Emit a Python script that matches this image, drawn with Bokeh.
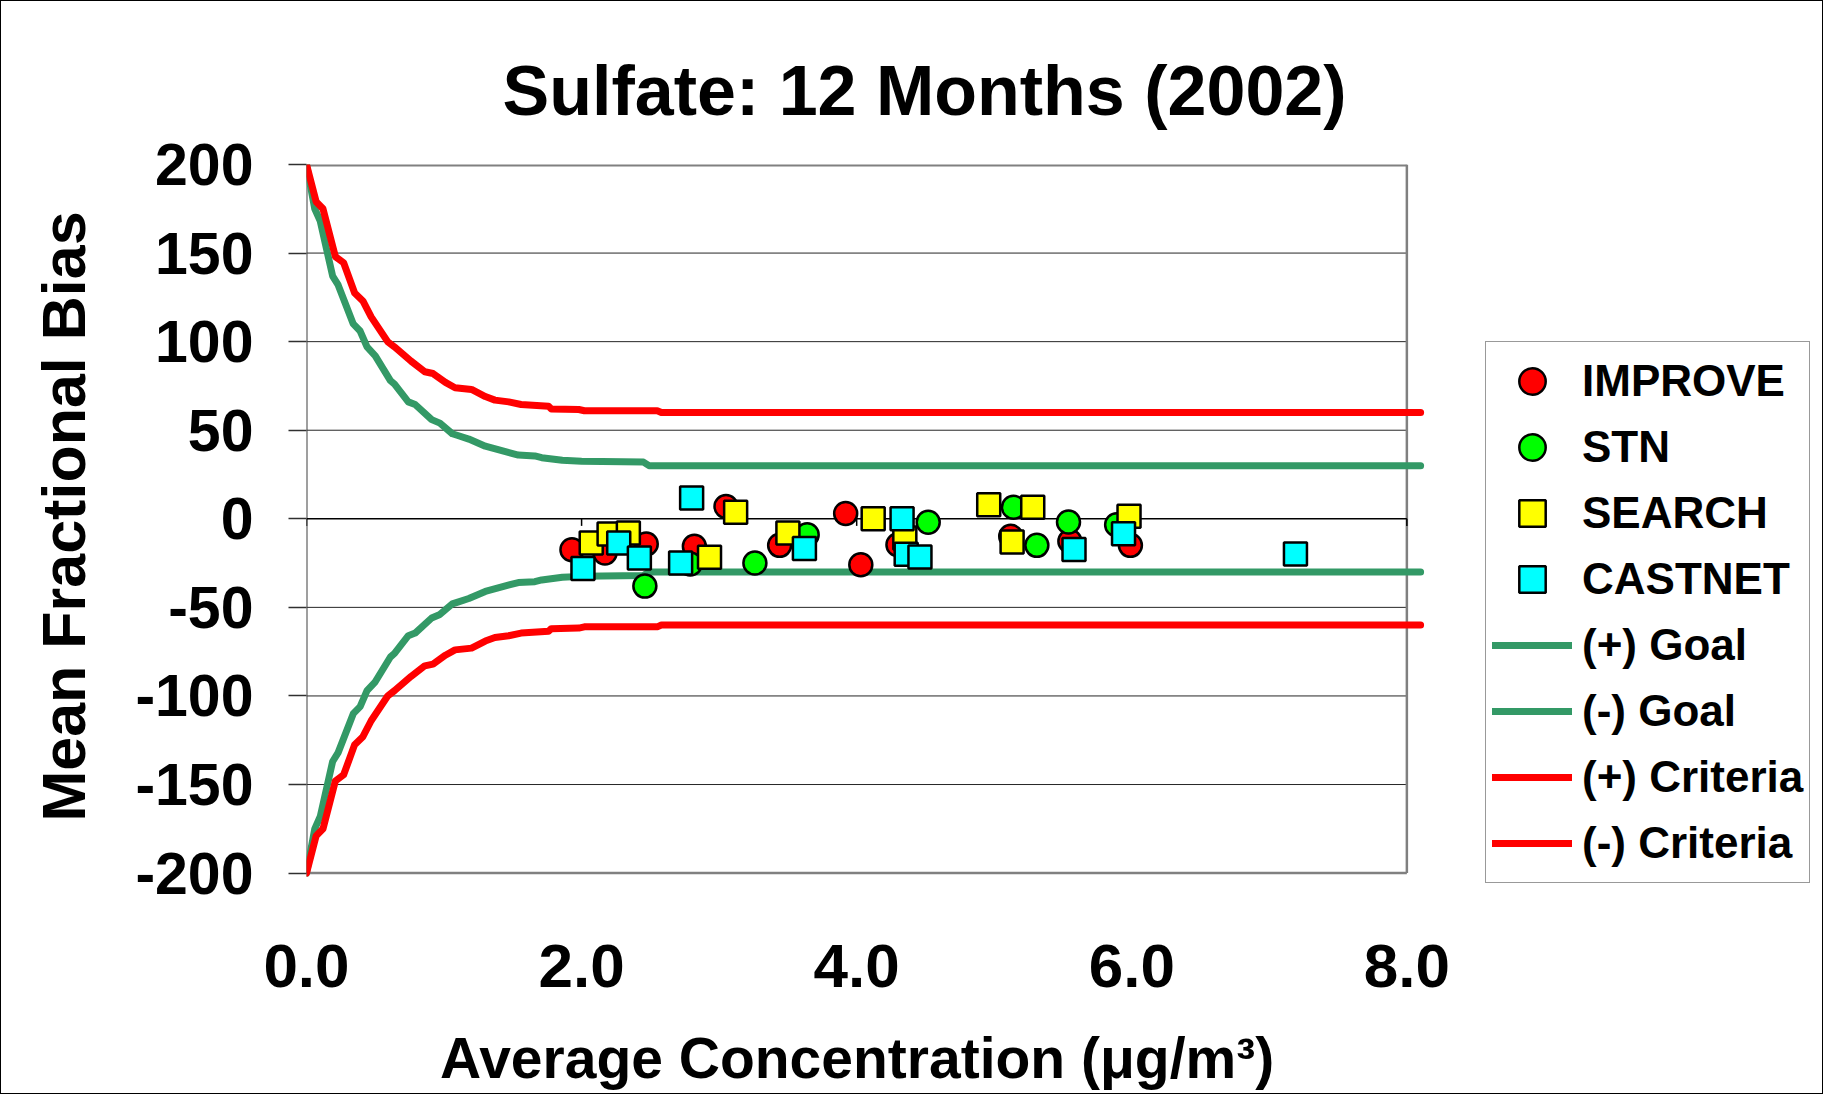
from bokeh.plotting import figure
from bokeh.models import Range1d, FixedTicker, Legend, LegendItem
from bokeh.embed import file_html
from bokeh.resources import INLINE

# ---------------- data ----------------
title_text = "Sulfate: 12 Months (2002)"
x_title = "Average Concentration (\u03bcg/m\u00b3)"
y_title = "Mean Fractional Bias"

x_ticks = [0, 2, 4, 6, 8]
x_tick_labels = ["0.0", "2.0", "4.0", "6.0", "8.0"]
y_ticks = [-200, -150, -100, -50, 0, 50, 100, 150, 200]
y_tick_labels = ["-200", "-150", "-100", "-50", "0", "50", "100", "150", "200"]

improve_x = [1.93, 2.17, 2.47, 2.82, 3.05, 3.44, 3.92, 4.03, 4.30, 5.12, 5.55, 5.99]
improve_y = [-17.5, -19.3, -14.2, -15.5, 7.0, -15.0, 3.0, -26.0, -14.6, -9.9, -12.7, -15.0]

stn_x = [2.46, 2.79, 3.26, 3.64, 4.52, 5.14, 5.31, 5.54, 5.89]
stn_y = [-38.0, -25.5, -25.0, -9.0, -1.9, 6.5, -15.0, -1.8, -3.3]

search_x = [2.07, 2.20, 2.34, 2.93, 3.12, 3.50, 4.12, 4.35, 4.96, 5.13, 5.28, 5.98]
search_y = [-13.7, -8.6, -8.0, -21.7, 3.7, -8.0, 0.0, -10.8, 8.0, -13.1, 6.5, 1.4]

castnet_x = [2.01, 2.27, 2.42, 2.72, 2.80, 3.62, 4.33, 4.36, 4.46, 5.58, 5.94, 7.19]
castnet_y = [-28.0, -13.7, -22.1, -25.0, 11.7, -16.8, 0.0, -20.0, -21.5, -17.4, -8.4, -19.9]

goal_x = [0.0, 0.06, 0.10, 0.19, 0.23, 0.34, 0.39, 0.44, 0.50, 0.61, 0.64, 0.74, 0.79,
          0.91, 0.97, 1.06, 1.10, 1.18, 1.30, 1.44, 1.54, 1.66, 1.71, 1.86, 2.00, 2.45,
          2.49, 8.1]
goal_pos = [200, 175, 168, 137, 132, 110, 106, 97, 92, 78, 76, 66, 64.5,
            56, 54, 48, 47, 45, 41, 38, 36, 35.5, 34.5, 33, 32.5, 32,
            30, 30]
goal_neg = [-v for v in goal_pos]

crit_x = [0.0, 0.07, 0.12, 0.21, 0.27, 0.35, 0.41, 0.47, 0.59, 0.64, 0.76, 0.86, 0.92,
          1.01, 1.08, 1.20, 1.30, 1.37, 1.47, 1.56, 1.76, 1.78, 1.98, 2.02, 2.55, 2.58, 8.1]
crit_pos = [200, 179, 175, 148, 144.5, 127.5, 123, 114, 100, 97, 89, 83, 82,
            77, 74, 73, 69, 67, 66, 64.5, 63.5, 62, 61.7, 61, 61, 60, 60]
crit_neg = [-v for v in crit_pos]

# ---------------- style ----------------
FONT = "Liberation Sans"
GOAL_COLOR = "#339966"
CRIT_COLOR = "#FF0000"

# the frame is widened to the right so that the legend can sit inside it
p = figure(width=1823, height=1094,
           x_range=Range1d(0, 11.0), y_range=Range1d(-207, 200),
           output_backend="svg", toolbar_location=None,
           min_border_left=305, min_border_right=5,
           min_border_top=163, min_border_bottom=210)
p.outline_line_color = None
p.grid.visible = False
p.background_fill_color = "white"
p.border_fill_color = "white"
p.styles = {"border": "1px solid black"}

p.title.text = title_text
p.title.text_font = FONT
p.title.text_font_size = "70px"
p.title.text_font_style = "bold"
p.title.text_color = "black"
p.title.align = "left"
p.title.offset = 196
p.title.standoff = 69

xa = p.xaxis[0]
xa.ticker = FixedTicker(ticks=x_ticks)
xa.major_label_overrides = dict(zip(x_ticks, x_tick_labels))
xa.axis_line_color = None
xa.major_tick_line_color = None
xa.minor_tick_line_color = None
xa.major_label_standoff = 53
xa.major_label_text_font = FONT
xa.major_label_text_font_style = "bold"
xa.major_label_text_font_size = "62px"
xa.major_label_text_color = "black"
# non-breaking spaces shift the centred title left, under the plotted area
xa.axis_label = x_title + "\u00a0" * 26
xa.axis_label_standoff = 36
xa.axis_label_text_font = FONT
xa.axis_label_text_font_style = "bold"
xa.axis_label_text_font_size = "57px"
xa.axis_label_text_color = "black"

ya = p.yaxis[0]
ya.ticker = FixedTicker(ticks=y_ticks)
ya.major_label_overrides = dict(zip(y_ticks, y_tick_labels))
ya.axis_line_color = None
ya.major_tick_line_color = "#303030"
ya.major_tick_line_width = 1.5
ya.major_tick_out = 18
ya.major_tick_in = 0
ya.minor_tick_line_color = None
ya.major_label_standoff = 35
ya.major_label_text_font = FONT
ya.major_label_text_font_style = "bold"
ya.major_label_text_font_size = "59px"
ya.major_label_text_color = "black"
ya.axis_label = "\u00a0" + y_title
ya.axis_label_standoff = 34
ya.axis_label_text_font = FONT
ya.axis_label_text_font_style = "bold"
ya.axis_label_text_font_size = "61px"
ya.axis_label_text_color = "black"

# gridlines and plot-area border
grid_y = [v for v in y_ticks if v not in (0, y_ticks[0], y_ticks[-1])]
p.segment(x0=x_ticks[0], x1=x_ticks[-1], y0=grid_y, y1=grid_y,
          line_color="#262626", line_width=1)
p.segment(x0=x_ticks[0], x1=x_ticks[-1], y0=[y_ticks[-1]], y1=[y_ticks[-1]],
          line_color="#808080", line_width=4)
p.segment(x0=x_ticks[0], x1=x_ticks[-1], y0=[y_ticks[0]], y1=[y_ticks[0]],
          line_color="#808080", line_width=2.5)
p.segment(x0=[x_ticks[-1]], x1=[x_ticks[-1]], y0=y_ticks[0], y1=y_ticks[-1],
          line_color="#808080", line_width=2.5)
p.segment(x0=[x_ticks[0]], x1=[x_ticks[0]], y0=y_ticks[0], y1=y_ticks[-1],
          line_color="#404040", line_width=2)
p.segment(x0=[x_ticks[0]], x1=[x_ticks[-1]], y0=0, y1=0,
          line_color="black", line_width=1.5)
p.segment(x0=x_ticks, x1=x_ticks, y0=0, y1=-4, line_color="black", line_width=1.5)

# curves
LW = 7
r_gp = p.line(goal_x, goal_pos, line_color=GOAL_COLOR, line_width=LW, line_join="round", line_cap="round")
r_gn = p.line(goal_x, goal_neg, line_color=GOAL_COLOR, line_width=LW, line_join="round", line_cap="round")
r_cp = p.line(crit_x, crit_pos, line_color=CRIT_COLOR, line_width=LW, line_join="round", line_cap="round")
r_cn = p.line(crit_x, crit_neg, line_color=CRIT_COLOR, line_width=LW, line_join="round", line_cap="round")

# points
MS = 23
r_imp = p.scatter(improve_x, improve_y, marker="circle", size=MS, fill_color="#FF0000",
                  line_color="black", line_width=2.5)
r_stn = p.scatter(stn_x, stn_y, marker="circle", size=MS, fill_color="#00FF00",
                  line_color="black", line_width=2.5)
r_sea = p.scatter(search_x, search_y, marker="square", size=MS, fill_color="#FFFF00",
                  line_color="black", line_width=2.5)
r_cas = p.scatter(castnet_x, castnet_y, marker="square", size=MS, fill_color="#00FFFF",
                  line_color="black", line_width=2.5)

items = [
    LegendItem(label="IMPROVE", renderers=[r_imp]),
    LegendItem(label="STN", renderers=[r_stn]),
    LegendItem(label="SEARCH", renderers=[r_sea]),
    LegendItem(label="CASTNET", renderers=[r_cas]),
    LegendItem(label="(+) Goal", renderers=[r_gp]),
    LegendItem(label="(-) Goal", renderers=[r_gn]),
    LegendItem(label="(+) Criteria", renderers=[r_cp]),
    LegendItem(label="(-) Criteria", renderers=[r_cn]),
]
legend = Legend(items=items, location=(1179, 2), orientation="vertical",
                label_text_font=FONT, label_text_font_style="bold",
                label_text_font_size="44px", label_text_color="black",
                glyph_width=80, glyph_height=66, label_height=66,
                label_standoff=10, spacing=0, padding=6, margin=0,
                border_line_color="#333333", border_line_width=1.5,
                background_fill_color="white", background_fill_alpha=1.0)
p.add_layout(legend, "center")

open("out.html", "w").write(file_html(p, INLINE))
